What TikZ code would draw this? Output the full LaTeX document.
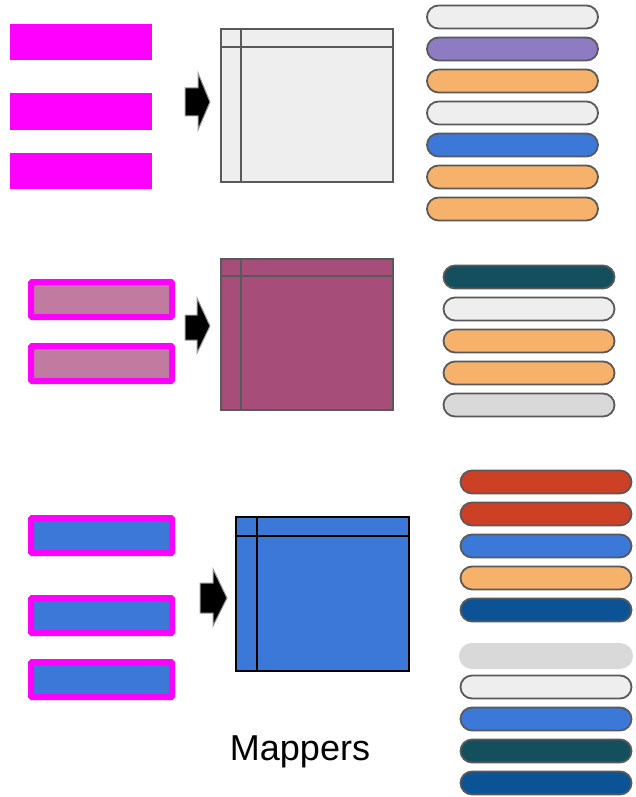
\documentclass[tikz,border=0pt]{standalone}
\usepackage{fontspec}
\usetikzlibrary{shapes.misc}
\setmainfont{Liberation Sans}
\definecolor{edge}{HTML}{595959}
\definecolor{lgray}{HTML}{EEEEEE}
\definecolor{mgray}{HTML}{D9D9D9}
\definecolor{purp}{HTML}{8E7CC3}
\definecolor{orng}{HTML}{F6B26B}
\definecolor{blu}{HTML}{3C78D8}
\definecolor{dblu}{HTML}{0B5394}
\definecolor{teal}{HTML}{134F5C}
\definecolor{redd}{HTML}{CC4125}
\definecolor{plum}{HTML}{A64D79}
\definecolor{pinkf}{HTML}{C27BA0}
\definecolor{magen}{HTML}{FF00FF}
\begin{document}
\begin{tikzpicture}[x=1pt,y=-1pt,
  pill/.style={draw=edge,line width=1.8pt,fill=#1,rounded rectangle,minimum width=171pt,minimum height=23pt,inner sep=0pt},
  pillplain/.style={fill=#1,rounded rectangle,minimum width=174pt,minimum height=26pt,inner sep=0pt},
  solidbar/.style={fill=magen,minimum width=142pt,minimum height=36pt,inner sep=0pt},
  framedbar/.style={draw=magen,line width=6pt,fill=#1,rounded corners=1pt,minimum width=141pt,minimum height=35pt,inner sep=0pt},
  tbl/.style={draw=#1,line width=2pt,inner sep=0pt},
  blockarrow/.style={fill=black,draw=gray!80,line width=1pt,line join=miter}]
\useasboundingbox (0,0) rectangle (635,797);

% ---------- top section ----------
\node[solidbar] (a1) at (81,42) {};
\node[solidbar] (a2) at (81,111.5) {};
\node[solidbar] (a3) at (81,171) {};
\coordinate (ar1) at (185,102);
\filldraw[blockarrow] (ar1) ++(0,-14) -- ++(13,0) -- ++(0,-15) -- (210,102) -- (198,130) -- (198,116) -- (185,116) -- cycle;
\node[tbl=edge,fill=lgray,minimum width=172pt,minimum height=153pt] (t1) at (307,105.5) {};
\draw[edge,line width=2pt] ([xshift=21pt]t1.north west) -- ([xshift=21pt]t1.south west);
\draw[edge,line width=2pt] ([yshift=-19pt]t1.north west) -- ([yshift=-19pt]t1.north east);
\node[pill=lgray] (p1) at (512.5,17) {};
\node[pill=purp]  (p2) at (512.5,49) {};
\node[pill=orng]  (p3) at (512.5,81) {};
\node[pill=lgray] (p4) at (512.5,113) {};
\node[pill=blu]   (p5) at (512.5,145) {};
\node[pill=orng]  (p6) at (512.5,177) {};
\node[pill=orng]  (p7) at (512.5,209) {};

% ---------- middle section ----------
\node[framedbar=pinkf] (b1) at (101.5,299.5) {};
\node[framedbar=pinkf] (b2) at (101.5,363.5) {};
\filldraw[blockarrow] (185,315) -- (197,315) -- (197,298) -- (210,326) -- (197,353) -- (197,340) -- (185,340) -- cycle;
\node[tbl=edge,fill=plum,minimum width=172pt,minimum height=151pt] (t2) at (307,334.5) {};
\draw[edge,line width=2pt] ([xshift=21pt]t2.north west) -- ([xshift=21pt]t2.south west);
\draw[edge,line width=2pt] ([yshift=-18pt]t2.north west) -- ([yshift=-18pt]t2.north east);
\node[pill=teal]  (q1) at (529,277) {};
\node[pill=lgray] (q2) at (529,309) {};
\node[pill=orng]  (q3) at (529,341) {};
\node[pill=orng]  (q4) at (529,373) {};
\node[pill=mgray] (q5) at (529,405) {};

% ---------- bottom section ----------
\node[framedbar=blu] (c1) at (101.5,535.5) {};
\node[framedbar=blu] (c2) at (101.5,615.5) {};
\node[framedbar=blu] (c3) at (101.5,679.5) {};
\filldraw[blockarrow] (200,583) -- (213,583) -- (213,569) -- (227,598) -- (213,626) -- (213,613) -- (200,613) -- cycle;
\node[tbl=black,fill=blu,minimum width=173pt,minimum height=154pt] (t3) at (322.5,594) {};
\draw[black,line width=2pt] ([xshift=22pt]t3.north west) -- ([xshift=22pt]t3.south west);
\draw[black,line width=2pt] ([yshift=-20pt]t3.north west) -- ([yshift=-20pt]t3.north east);
\node[pill=redd]  (r1) at (546,482) {};
\node[pill=redd]  (r2) at (546,514) {};
\node[pill=blu]   (r3) at (546,546) {};
\node[pill=orng]  (r4) at (546,578) {};
\node[pill=dblu]  (r5) at (546,610) {};
\node[pillplain=mgray] (r6) at (546,656) {};
\node[pill=lgray] (r7) at (546,687) {};
\node[pill=blu]   (r8) at (546,719) {};
\node[pill=teal]  (r9) at (546,751) {};
\node[pill=dblu]  (r10) at (546,783) {};

\node[anchor=base,inner sep=0pt,font=\fontsize{36}{40}\selectfont] (lbl) at (300,760) {Mappers};
\end{tikzpicture}
\end{document}
